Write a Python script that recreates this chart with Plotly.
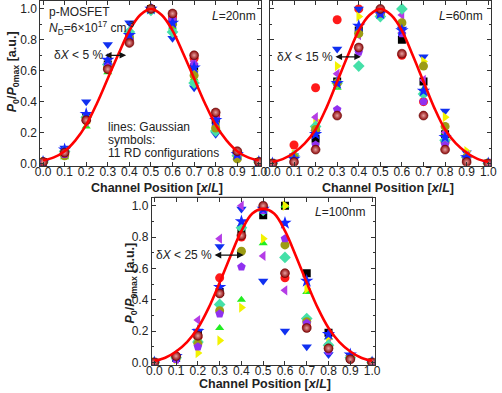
import plotly.graph_objects as go

# ---------------- data ----------------
x_pos = [0.0, 0.1, 0.2, 0.3, 0.4, 0.5, 0.6, 0.7, 0.8, 0.9, 1.0]
x_fit = [0.0, 0.05, 0.1, 0.15, 0.2, 0.25, 0.3, 0.35, 0.4, 0.45, 0.5,
         0.55, 0.6, 0.65, 0.7, 0.75, 0.8, 0.85, 0.9, 0.95, 1.0]

fit_20 = [0.02, 0.04, 0.08, 0.15, 0.25, 0.39, 0.55, 0.71, 0.86, 0.96, 1.0,
          0.96, 0.86, 0.71, 0.55, 0.39, 0.25, 0.15, 0.08, 0.04, 0.02]
fit_60 = [0.01, 0.03, 0.07, 0.13, 0.22, 0.36, 0.53, 0.70, 0.86, 0.96, 1.0,
          0.96, 0.86, 0.70, 0.53, 0.36, 0.22, 0.13, 0.07, 0.03, 0.01]
fit_100 = [0.01, 0.03, 0.07, 0.13, 0.22, 0.35, 0.51, 0.68, 0.84, 0.95, 0.98,
           0.95, 0.84, 0.68, 0.51, 0.35, 0.22, 0.13, 0.07, 0.03, 0.01]

series_names = ["RD1", "RD2", "RD3", "RD4", "RD5", "RD6", "RD7", "RD8", "RD9", "RD10", "RD11"]

# L = 20 nm
l20 = [
    [0.01, 0.07, 0.30, 0.64, 0.82, 1.00, 0.92, 0.62, 0.28, 0.06, 0.01],
    [0.01, 0.07, 0.28, 0.62, 0.80, 1.00, 0.95, 0.68, 0.31, 0.07, 0.01],
    [0.01, 0.04, 0.24, 0.59, 0.83, 0.99, 0.88, 0.55, 0.24, 0.04, 0.01],
    [0.01, 0.10, 0.40, 0.77, 0.91, 1.00, 0.81, 0.49, 0.19, 0.05, 0.01],
    [0.01, 0.06, 0.26, 0.63, 0.84, 1.00, 0.90, 0.60, 0.26, 0.05, 0.01],
    [0.01, 0.06, 0.27, 0.65, 0.82, 1.00, 0.93, 0.66, 0.29, 0.06, 0.01],
    [0.01, 0.08, 0.30, 0.64, 0.85, 0.99, 0.85, 0.52, 0.21, 0.05, 0.01],
    [0.01, 0.05, 0.29, 0.62, 0.81, 1.00, 0.90, 0.57, 0.23, 0.03, 0.01],
    [0.01, 0.06, 0.28, 0.64, 0.80, 1.00, 0.93, 0.64, 0.29, 0.06, 0.01],
    [0.01, 0.09, 0.32, 0.67, 0.83, 1.00, 0.91, 0.62, 0.28, 0.06, 0.01],
    [0.01, 0.07, 0.28, 0.61, 0.78, 1.00, 0.97, 0.70, 0.33, 0.08, 0.01],
]
# L = 60 nm
l60 = [
    [0.00, 0.04, 0.16, 0.53, 0.86, 0.97, 0.80, 0.53, 0.19, 0.03, 0.00],
    [0.00, 0.12, 0.49, 0.93, 1.00, 0.99, 0.70, 0.40, 0.14, 0.03, 0.00],
    [0.00, 0.05, 0.25, 0.49, 0.85, 0.97, 0.85, 0.48, 0.20, 0.04, 0.00],
    [0.00, 0.05, 0.20, 0.74, 1.00, 0.96, 0.87, 0.69, 0.34, 0.07, 0.00],
    [0.00, 0.06, 0.28, 0.63, 0.95, 0.97, 0.90, 0.66, 0.30, 0.08, 0.00],
    [0.00, 0.06, 0.30, 0.58, 0.83, 0.97, 0.96, 0.54, 0.20, 0.05, 0.00],
    [0.00, 0.05, 0.24, 0.52, 0.63, 0.95, 1.00, 0.45, 0.15, 0.04, 0.00],
    [0.00, 0.04, 0.22, 0.52, 0.84, 0.97, 0.91, 0.63, 0.24, 0.04, 0.00],
    [0.00, 0.02, 0.12, 0.35, 0.72, 0.97, 0.84, 0.40, 0.12, 0.03, 0.00],
    [0.00, 0.03, 0.19, 0.52, 0.89, 0.97, 0.86, 0.47, 0.17, 0.04, 0.00],
    [0.00, 0.01, 0.09, 0.31, 0.75, 1.00, 0.71, 0.31, 0.09, 0.01, 0.00],
]
# L = 100 nm
l100 = [
    [0.00, 0.03, 0.18, 0.45, 0.85, 0.94, 1.00, 0.57, 0.19, 0.03, 0.00],
    [0.00, 0.04, 0.16, 0.54, 0.80, 0.99, 0.54, 0.23, 0.10, 0.03, 0.00],
    [0.00, 0.03, 0.15, 0.22, 0.40, 0.76, 1.00, 0.45, 0.16, 0.03, 0.00],
    [0.00, 0.03, 0.20, 0.74, 0.98, 0.52, 0.20, 0.10, 0.05, 0.03, 0.00],
    [0.00, 0.02, 0.06, 0.14, 0.35, 0.79, 1.00, 0.47, 0.15, 0.03, 0.00],
    [0.00, 0.02, 0.27, 0.79, 1.00, 0.68, 0.46, 0.27, 0.12, 0.03, 0.00],
    [0.00, 0.03, 0.13, 0.37, 0.86, 0.97, 0.67, 0.28, 0.11, 0.03, 0.00],
    [0.00, 0.03, 0.12, 0.33, 0.71, 0.98, 0.75, 0.26, 0.09, 0.03, 0.00],
    [0.00, 0.02, 0.10, 0.31, 0.61, 0.97, 0.79, 0.25, 0.07, 0.02, 0.00],
    [0.00, 0.04, 0.20, 0.48, 0.90, 0.98, 0.89, 0.52, 0.18, 0.05, 0.00],
    [0.00, 0.04, 0.17, 0.44, 0.81, 1.00, 0.57, 0.22, 0.09, 0.02, 0.00],
]

x_ticks = [0.0, 0.1, 0.2, 0.3, 0.4, 0.5, 0.6, 0.7, 0.8, 0.9, 1.0]
x_ticktext = ["0.0", "0.1", "0.2", "0.3", "0.4", "0.5", "0.6", "0.7", "0.8", "0.9", "1.0"]
y_ticks = [0.0, 0.2, 0.4, 0.6, 0.8, 1.0]
y_ticktext = ["0.0", "0.2", "0.4", "0.6", "0.8", "1.0"]

# ---------------- styles ----------------
symbols = ["square", "circle", "triangle-up", "triangle-down", "triangle-right",
           "triangle-left", "diamond", "circle", "pentagon", "star", "circle"]
colors = ["#000000", "#FF1A1A", "#22EE22", "#1030F0", "#F2F200",
          "#B43CE6", "#44E0A8", "#9C9C14", "#9030F0", "#1428FF", "#8A0808"]
sizes = [8, 9, 8, 9, 9, 9, 9, 9, 9, 10, 9]

FONT = "Liberation Sans, Arial, sans-serif"

fig = go.Figure()

panels = [("x", "y", l20, fit_20), ("x2", "y2", l60, fit_60), ("x3", "y3", l100, fit_100)]
for xa, ya, data, fit in panels:
    for i, vals in enumerate(data):
        marker = dict(symbol=symbols[i], color=colors[i], size=sizes[i],
                      line=dict(width=0))
        if i == 10:
            marker["gradient"] = dict(type="radial", color="#E8A0A0")
            marker["line"] = dict(width=0.5, color="#600000")
        fig.add_trace(go.Scatter(x=x_pos, y=vals, mode="markers", name=series_names[i],
                                 marker=marker, xaxis=xa, yaxis=ya, showlegend=False))
    fig.add_trace(go.Scatter(x=x_fit, y=fit, mode="lines", line=dict(color="#FF0000", width=2.6, shape="spline"),
                             xaxis=xa, yaxis=ya, showlegend=False))

W, H = 502, 393
def px_x(p):
    return p / W
def px_y(p):
    return 1 - p / H

xr = [-0.012, 1.012]
yr = [-0.015, 1.05]

axis_common = dict(showline=True, linecolor="#333333", linewidth=1, mirror="allticks",
                   ticks="inside", ticklen=4, tickwidth=1, tickcolor="#333333",
                   showgrid=False, zeroline=False,
                   tickfont=dict(family=FONT, size=12, color="#222222"))

def xaxis(domain):
    d = dict(axis_common)
    d.update(domain=domain, range=xr, tickvals=x_ticks, ticktext=x_ticktext, ticklabelstandoff=-5)
    return d

def yaxis(domain, anchor, labels=True):
    d = dict(axis_common)
    d.update(domain=domain, range=yr, tickvals=y_ticks, ticktext=y_ticktext, anchor=anchor,
             showticklabels=labels, ticklabelstandoff=0,
             minor=dict(ticks="inside", ticklen=2, tickvals=[0.1, 0.3, 0.5, 0.7, 0.9], tickcolor="#333333"))
    return d

top_dom = [px_y(167.4), px_y(0.15)]
bot_dom = [px_y(369.4), px_y(200)]

fig.update_layout(
    width=W, height=H, margin=dict(l=0, r=0, t=0, b=0),
    paper_bgcolor="white", plot_bgcolor="white",
    xaxis=dict(xaxis([px_x(35.3), px_x(261.7)]), anchor="y"),
    yaxis=yaxis(top_dom, "x"),
    xaxis2=dict(xaxis([px_x(270.3), px_x(496.7)]), anchor="y2"),
    yaxis2=yaxis(top_dom, "x2", labels=False),
    xaxis3=dict(xaxis([px_x(149.3), px_x(377.7)]), anchor="y3"),
    yaxis3=yaxis(bot_dom, "x3"),
    font=dict(family=FONT, size=12, color="#222222"),
)

ann = []
def txt(text, x, y, xref, yref, xanchor="left", size=12, **kw):
    ann.append(dict(text=text, x=x, y=y, xref=xref, yref=yref, xanchor=xanchor,
                    yanchor="middle", showarrow=False,
                    font=dict(family=FONT, size=size, color="#222222"), **kw))

def darrow(x0, x1, y, xref, yref):
    ann.append(dict(x=x1, y=y, ax=x0, ay=y, xref=xref, yref=yref, axref=xref, ayref=yref,
                    text="", showarrow=True, arrowhead=2, startarrowhead=2, arrowside="end+start",
                    arrowsize=1.1, startarrowsize=1.1, arrowwidth=1.2, arrowcolor="#111111",
                    standoff=0, startstandoff=0))

# top-left
txt("p-MOSFET", 0.018, 0.98, "x", "y")
txt("<i>N</i><sub>D</sub>=6×10<sup>17</sup> cm<sup>-3</sup>", 0.018, 0.875, "x", "y")
txt("<i>L</i>=20nm", 0.995, 0.955, "x", "y", xanchor="right")
txt("δ<i>X</i> &lt; 5 %", 0.285, 0.70, "x", "y", xanchor="right")
darrow(0.28, 0.385, 0.70, "x", "y")
txt("lines: Gaussian", 0.29, 0.236, "x", "y")
txt("symbols:", 0.29, 0.153, "x", "y")
txt("11 RD configurations", 0.29, 0.066, "x", "y")

# top-right
txt("<i>L</i>=60nm", 0.985, 0.955, "x2", "y2", xanchor="right")
txt("δ<i>X</i> &lt; 15 %", 0.29, 0.69, "x2", "y2", xanchor="right")
darrow(0.285, 0.41, 0.69, "x2", "y2")

# bottom
txt("<i>L</i>=100nm", 0.978, 0.962, "x3", "y3", xanchor="right")
txt("δ<i>X</i> &lt; 25 %", 0.275, 0.685, "x3", "y3", xanchor="right")
darrow(0.27, 0.41, 0.685, "x3", "y3")

# axis titles
xt = "<b>Channel Position [<i>x</i>/<i>L</i>]</b>"
yt = "<b><i>P</i><sub>0</sub>/<i>P</i><sub>0max</sub> [a.u.]</b>"
txt(xt, px_x(155), px_y(189.5), "paper", "paper", xanchor="center", size=12.5)
txt(xt, px_x(391), px_y(189.5), "paper", "paper", xanchor="center", size=12.5)
txt(xt, px_x(265), px_y(388.5), "paper", "paper", xanchor="center", size=12.5)
txt(yt, px_x(7.5), px_y(72), "paper", "paper", xanchor="center", size=12.5, textangle=-90)
txt(yt, px_x(128), px_y(286), "paper", "paper", xanchor="center", size=12.5, textangle=-90)

fig.update_layout(annotations=ann)

fig.add_shape(type="line", xref="paper", yref="paper", x0=px_x(152), x1=px_x(376),
              y0=px_y(198.5), y1=px_y(198.5), line=dict(color="#C8C8C8", width=1))

fig.write_html("out.html")
